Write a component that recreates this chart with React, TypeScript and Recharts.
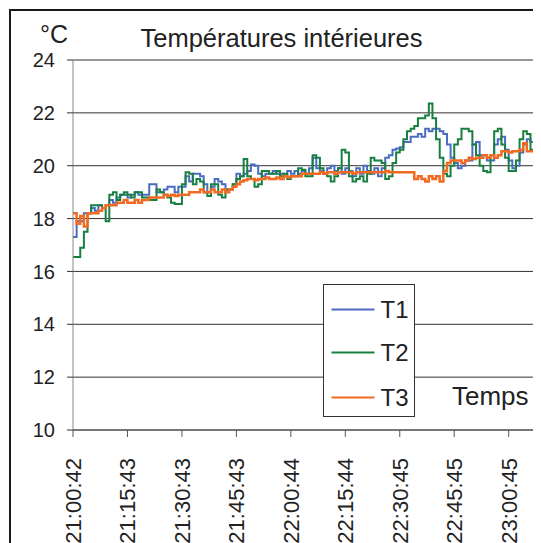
import { LineChart, Line, XAxis, YAxis, CartesianGrid } from 'recharts'

// one reading per minute from 21:00:42
const T1 = [
  17.3, 17.9, 17.9, 18.2, 18.2, 18.4, 18.3, 18.5, 18.4, 18.5,
  18.7, 18.6, 18.8, 18.9, 18.9, 18.8, 18.9, 19.0, 18.9, 18.9,
  18.9, 19.3, 19.3, 19.0, 19.0, 19.1, 19.2, 19.2, 19.0, 19.2,
  19.2, 19.6, 19.4, 19.7, 19.7, 19.6, 19.3, 19.0, 19.2, 19.5,
  19.4, 19.3, 19.1, 19.1, 19.3, 19.7, 19.6, 19.7, 19.8, 20.05,
  20.0, 19.7, 19.6, 19.7, 19.7, 19.8, 19.7, 19.7, 19.6, 19.8,
  19.7, 19.8, 19.7, 19.8, 19.7, 19.9, 20.3, 19.9, 19.8, 19.7,
  19.9, 20.0, 19.8, 19.9, 19.7, 19.9, 19.8, 19.6, 19.9, 19.7,
  20.0, 19.8, 19.7, 19.9, 19.6, 19.9, 20.3, 20.4, 20.6, 20.65,
  20.7, 20.9, 20.9, 21.1, 21.1, 21.2, 21.1, 21.4, 21.3, 21.4,
  21.4, 21.3, 21.2, 20.8, 20.3, 20.1, 19.9, 20.0, 20.2, 20.2,
  20.8, 20.9, 20.4, 20.4, 20.2, 20.2, 20.8, 21.0, 21.1, 20.6,
  20.2, 19.9, 20.0, 20.5, 20.8, 21.0, 20.9, 21.3, 21.4, 21.4,
  21.4,
]

const T2 = [
  16.55, 16.55, 16.9, 17.5, 18.2, 18.5, 18.5, 18.5, 18.4, 17.9,
  18.9, 19.0, 18.7, 18.9, 19.0, 18.9, 18.8, 19.0, 19.0, 18.8,
  18.8, 18.7, 18.7, 19.1, 19.0, 18.9, 18.8, 18.6, 18.55, 18.55,
  19.3, 19.75, 19.7, 19.3, 19.5, 19.4, 19.0, 18.85, 19.3, 19.3,
  18.9, 18.8, 19.1, 19.1, 19.3, 19.5, 19.6, 20.25, 19.6, 19.5,
  19.2, 19.3, 19.8, 19.8, 19.7, 19.7, 19.8, 19.6, 19.7, 19.5,
  19.6, 19.6, 19.9, 19.85, 19.6, 19.6, 20.4, 20.3, 19.9, 19.7,
  19.6, 19.4, 19.6, 19.9, 20.6, 20.5, 19.6, 19.4, 19.5, 19.6,
  19.4, 19.7, 20.3, 20.2, 20.2, 20.1, 19.5, 19.6, 20.1, 20.5,
  20.6, 21.0, 21.3, 21.4, 21.5, 21.8, 21.8, 21.9, 22.35, 21.8,
  21.0, 20.3, 19.7, 19.6, 20.0, 20.8, 21.0, 21.4, 21.4, 21.3,
  20.8, 20.4, 20.0, 19.8, 19.75, 20.4, 21.3, 21.4, 20.8, 20.3,
  19.8, 19.8, 20.2, 21.0, 21.3, 21.2, 20.6, 20.0, 19.8, 19.9,
  20.3,
]

const T3 = [
  18.2, 17.8, 18.1, 17.7, 18.2, 18.2, 18.2, 18.3, 18.4, 18.5,
  18.5, 18.5, 18.6, 18.6, 18.7, 18.6, 18.6, 18.7, 18.6, 18.7,
  18.7, 18.8, 18.8, 18.8, 18.8, 18.9, 18.85, 18.9, 18.85, 18.9,
  18.9, 18.9, 19.0, 19.0, 19.0, 19.1, 19.0, 19.0, 19.1, 19.0,
  19.0, 19.1, 19.0, 19.1, 19.2, 19.3, 19.4, 19.45, 19.5, 19.5,
  19.45, 19.5, 19.5, 19.55, 19.5, 19.5, 19.55, 19.5, 19.6, 19.55,
  19.6, 19.6, 19.6, 19.7, 19.7, 19.7, 19.7, 19.7, 19.75, 19.7,
  19.75, 19.75, 19.7, 19.75, 19.75, 19.75, 19.75, 19.7, 19.75, 19.75,
  19.75, 19.75, 19.75, 19.75, 19.75, 19.75, 19.8, 19.75, 19.75, 19.75,
  19.75, 19.75, 19.75, 19.75, 19.5, 19.6, 19.5, 19.4, 19.6, 19.5,
  19.6, 19.4, 19.8, 20.1, 20.2, 20.2, 20.2, 20.1, 20.2, 20.3,
  20.25, 20.3, 20.3, 20.4, 20.3, 20.4, 20.3, 20.4, 20.55, 20.55,
  20.5, 20.55, 20.55, 20.6, 20.85, 20.55, 20.55, 20.5, 20.55, 20.3,
  20.5,
]

const tickMinutes = [0, 15, 30, 45, 60, 75, 90, 105, 120]
const tickLabels = [
  '21:00:42', '21:15:43', '21:30:43', '21:45:43', '22:00:44',
  '22:15:44', '22:30:45', '22:45:45', '23:00:45',
]
const yTicks = [10, 12, 14, 16, 18, 20, 22, 24]

const series = [
  { key: 'T1', color: '#4a6cc0', width: 2 },
  { key: 'T2', color: '#178040', width: 2 },
  { key: 'T3', color: '#f26a22', width: 2.5 },
]

const data = T1.map((v, i) => ({ t: i, T1: v, T2: T2[i], T3: T3[i] }))

const FONT = '"Liberation Sans", Arial, sans-serif'

const TimeTick = (props: any) => {
  const { x, y, payload } = props
  const i = tickMinutes.indexOf(payload.value)
  return (
    <text
      x={x}
      y={y}
      transform={`rotate(-90 ${x} ${y})`}
      textAnchor="end"
      dy="0.36em"
      fontSize={22}
      fontFamily={FONT}
      fill="#222"
    >
      {tickLabels[i]}
    </text>
  )
}

export default function App() {
  return (
    <div style={{ position: 'relative', width: 533, height: 535, overflow: 'hidden' }}>
      <div
        style={{
          position: 'absolute',
          left: 1,
          top: 1,
          width: 700,
          height: 700,
          border: '2px solid #1a1a1a',
        }}
      />
      <div style={{ position: 'absolute', left: 0, top: 0 }}>
        <LineChart
          width={560}
          height={535}
          data={data}
          margin={{ top: 52, right: 23, left: 0, bottom: 0 }}
        >
          <CartesianGrid vertical={false} stroke="#333" />
          <XAxis
            dataKey="t"
            type="number"
            domain={[0, 130]}
            ticks={tickMinutes}
            interval={0}
            height={113}
            tickSize={7}
            tickMargin={21}
            stroke="#555"
            tick={<TimeTick />}
          />
          <YAxis
            type="number"
            domain={[10, 24]}
            ticks={yTicks}
            interval={0}
            width={65}
            tickSize={6}
            tickMargin={12}
            stroke="#888"
            tickLine={{ stroke: '#333' }}
            tick={{ fontSize: 20, fontFamily: FONT, fill: '#222' }}
          />
          {series.map((s) => (
            <Line
              key={s.key}
              dataKey={s.key}
              type="stepAfter"
              stroke={s.color}
              strokeWidth={s.width}
              dot={false}
              isAnimationActive={false}
            />
          ))}
        </LineChart>
      </div>
      <svg
        width={533}
        height={535}
        style={{ position: 'absolute', left: 0, top: 0, pointerEvents: 'none' }}
        fontFamily={FONT}
        fill="#222"
      >
        <text x={32} y={35} fontSize={25}>°C</text>
        <text x={273.5} y={39} fontSize={25.5} textAnchor="middle">
          Températures intérieures
        </text>
        <text x={444} y={397} fontSize={26}>Temps</text>
        <g transform="translate(315.5 276.5)">
          <rect width={91} height={132} fill="#fff" stroke="#333" />
          {series.map((s, i) => {
            const cy = [25, 68, 113][i]
            return (
              <g key={s.key}>
                <line x1={8} x2={51} y1={cy} y2={cy} stroke={s.color} strokeWidth={2} />
                <text x={57} y={cy} dy="0.36em" fontSize={24}>{s.key}</text>
              </g>
            )
          })}
        </g>
      </svg>
    </div>
  )
}
